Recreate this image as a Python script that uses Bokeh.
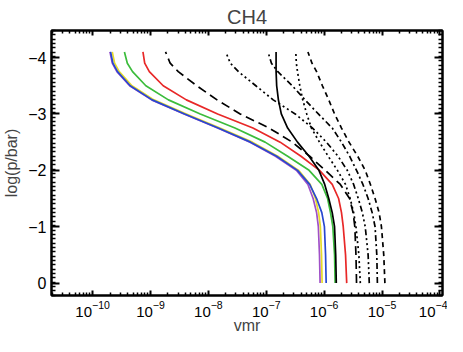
import numpy as np
from bokeh.plotting import figure
from bokeh.models import Range1d, FixedTicker, LogAxis, LinearAxis
from bokeh.embed import file_html
from bokeh.resources import INLINE

# pressure levels, log10(p/bar)
log_p = [0.0, -0.5, -1.0, -1.25, -1.5, -1.75, -2.0, -2.25, -2.5, -2.75, -3.0, -3.25, -3.5, -3.75, -3.9, -4.1]

# log10(vmr) of CH4 for each model profile
purple_lv = [-6.07, -6.08, -6.10, -6.13, -6.19, -6.28, -6.48, -6.84, -7.28, -7.84, -8.42, -8.98, -9.36, -9.58, -9.66, -9.70]
yellow_lv = [-6.035, -6.045, -6.065, -6.095, -6.15, -6.24, -6.44, -6.80, -7.24, -7.80, -8.38, -8.94, -9.32, -9.54, -9.62, -9.66]
blue_lv = [-5.965, -5.975, -5.995, -6.04, -6.13, -6.25, -6.46, -6.82, -7.27, -7.83, -8.41, -8.97, -9.35, -9.57, -9.65, -9.69]
green_lv = [-5.81, -5.82, -5.85, -5.89, -5.94, -6.04, -6.26, -6.63, -7.02, -7.54, -8.14, -8.69, -9.08, -9.31, -9.40, -9.45]
red_lv = [-5.61, -5.63, -5.67, -5.70, -5.75, -5.86, -6.08, -6.40, -6.76, -7.23, -7.84, -8.38, -8.78, -9.02, -9.10, -9.13]
solid_lv = [-5.79, -5.80, -5.82, -5.86, -5.92, -5.99, -6.09, -6.26, -6.46, -6.63, -6.74, -6.79, -6.82, -6.83, -6.83, -6.83]
longdash_lv = [-5.44, -5.45, -5.47, -5.50, -5.56, -5.72, -5.98, -6.25, -6.55, -6.95, -7.45, -7.85, -8.20, -8.52, -8.66, -8.74]
dotted_lv = [-5.375, -5.40, -5.45, -5.49, -5.55, -5.63, -5.77, -5.93, -6.08, -6.22, -6.30, -6.37, -6.42, -6.46, -6.48, -6.49]
dashdot3_lv = [-5.22, -5.24, -5.29, -5.34, -5.41, -5.49, -5.60, -5.76, -5.96, -6.20, -6.50, -6.88, -7.18, -7.48, -7.62, -7.70]
dashdot_lv = [-5.08, -5.09, -5.12, -5.17, -5.24, -5.33, -5.44, -5.56, -5.70, -5.86, -6.10, -6.33, -6.55, -6.80, -6.91, -6.97]
dashed_lv = [-4.95, -4.97, -5.01, -5.05, -5.12, -5.20, -5.29, -5.42, -5.57, -5.70, -5.82, -5.92, -6.03, -6.13, -6.21, -6.28]

x_major = [1e-10, 1e-9, 1e-8, 1e-7, 1e-6, 1e-5, 1e-4]
y_major = [-4, -3, -2, -1, 0]

curves = [
    (purple_lv, "#a050c8", "solid"),
    (yellow_lv, "#e6dc28", "solid"),
    (blue_lv, "#2848d0", "solid"),
    (green_lv, "#3cbc3c", "solid"),
    (red_lv, "#e82828", "solid"),
    (solid_lv, "black", "solid"),
    (longdash_lv, "black", "9 5"),
    (dotted_lv, "black", "2 3"),
    (dashdot3_lv, "black", "6 3 2 3 2 3 2 3"),
    (dashdot_lv, "black", "6 3 2 3"),
    (dashed_lv, "black", "5 4"),
]

FONT = "Liberation Sans"

p = figure(width=447, height=336, x_axis_type="log",
           x_range=Range1d(10 ** -10.71, 10 ** -3.955),
           y_range=Range1d(0.22, -4.48),
           output_backend="svg", toolbar_location=None,
           min_border_left=50, min_border_right=5, min_border_top=20, min_border_bottom=20)

for lv, col, dash in curves:
    p.line([10 ** v for v in lv], log_p, line_color=col, line_width=1.7, line_dash=dash,
           line_join="round")

x_minor = [m * 10.0 ** e for e in range(-11, -3) for m in range(2, 10)]
y_minor = list(np.arange(-4.48, 0.23, 1 / 13.0))

p.title.text = "CH4"
p.title.align = "center"
p.title.text_font = FONT
p.title.text_font_size = "20px"
p.title.text_font_style = "normal"
p.title.standoff = 6

p.grid.visible = False
p.outline_line_color = "black"
p.outline_line_width = 2
p.background_fill_color = "white"
p.border_fill_color = "white"

def style_x(ax, labels=True):
    ax.ticker = FixedTicker(ticks=x_major, minor_ticks=x_minor)
    ax.major_tick_in = 5
    ax.major_tick_out = 0
    ax.minor_tick_in = 3
    ax.minor_tick_out = 0
    ax.axis_line_width = 2
    ax.major_tick_line_width = 2
    ax.minor_tick_line_width = 1.5
    ax.major_label_text_font = FONT
    ax.major_label_text_font_size = "15px" if labels else "1px"
    ax.major_label_text_alpha = 1 if labels else 0
    ax.major_label_standoff = 5 if labels else 0
    ax.major_label_text_color = "black"
    if not labels:
        ax.axis_label_standoff = 0

def style_y(ax, labels=True):
    ax.ticker = FixedTicker(ticks=y_major, minor_ticks=y_minor)
    ax.major_tick_in = 8
    ax.major_tick_out = 0
    ax.minor_tick_in = 4
    ax.minor_tick_out = 0
    ax.axis_line_width = 2
    ax.major_tick_line_width = 2
    ax.minor_tick_line_width = 1.5
    ax.major_label_text_font = FONT
    ax.major_label_text_font_size = "16px" if labels else "1px"
    ax.major_label_text_alpha = 1 if labels else 0
    ax.major_label_standoff = 5 if labels else 0
    ax.major_label_text_color = "black"
    if not labels:
        ax.axis_label_standoff = 0

style_x(p.xaxis[0])
p.xaxis[0].axis_label = "vmr"
p.xaxis[0].axis_label_text_font = FONT
p.xaxis[0].axis_label_text_font_size = "16px"
p.xaxis[0].axis_label_text_font_style = "normal"
p.xaxis[0].axis_label_standoff = -3

style_y(p.yaxis[0])
p.yaxis[0].axis_label = "log(p/bar)"
p.yaxis[0].axis_label_text_font = FONT
p.yaxis[0].axis_label_text_font_size = "16px"
p.yaxis[0].axis_label_text_font_style = "normal"
p.yaxis[0].axis_label_standoff = 5

top_ax = LogAxis()
style_x(top_ax, labels=False)
p.add_layout(top_ax, "above")

right_ax = LinearAxis()
style_y(right_ax, labels=False)
p.add_layout(right_ax, "right")

open("out.html", "w").write(file_html(p, INLINE))
